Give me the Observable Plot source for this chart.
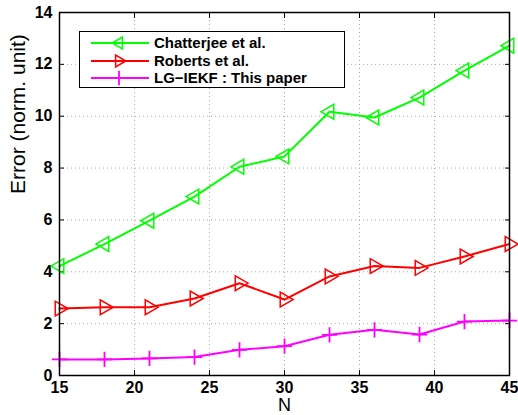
<!DOCTYPE html>
<html>
<head>
<meta charset="utf-8">
<script src="https://cdn.jsdelivr.net/npm/d3@7"></script>
<script src="https://cdn.jsdelivr.net/npm/@observablehq/plot@0.6"></script>
<style>
  body { margin: 0; background: #fff; }
  #wrap { position: relative; width: 518px; height: 415px; font-family: "Liberation Sans", Arial, sans-serif; }
  #legend { position: absolute; left: 79px; top: 31px; width: 266px; height: 57px; border: 1px solid #000; background: #fff; box-sizing: border-box; }
  #legend .row { position: absolute; left: 0; height: 18px; }
  #legend .lab { position: absolute; left: 74px; font-weight: bold; font-size: 15px; line-height: 18px; white-space: nowrap; }
</style>
</head>
<body>
<div id="wrap"></div>
<script>
const N = [15, 18, 21, 24, 27, 30, 33, 36, 39, 42, 45];
const chatterjee = [4.22, 5.07, 5.97, 6.9, 8.05, 8.45, 10.17, 9.95, 10.72, 11.76, 12.72];
const roberts = [2.58, 2.63, 2.63, 2.97, 3.56, 2.93, 3.82, 4.22, 4.15, 4.59, 5.07];
const lgiekf = [0.62, 0.62, 0.66, 0.71, 0.99, 1.13, 1.57, 1.76, 1.58, 2.08, 2.12];
const seriesNames = ["Chatterjee et al.", "Roberts et al.", "LG\u2212IEKF : This paper"];
const seriesColors = ["#00ff00", "#ff0000", "#ff00ff"];
const xTicks = [15, 20, 25, 30, 35, 40, 45];
const yTicks = [0, 2, 4, 6, 8, 10, 12, 14];

const data = [];
[chatterjee, roberts, lgiekf].forEach((vals, s) => {
  vals.forEach((v, i) => data.push({ series: seriesNames[s], N: N[i], err: v }));
});
const bySeries = (s) => data.filter(d => d.series === seriesNames[s]);

const tickFont = { fontWeight: "bold", fontSize: 16 };

const chart = Plot.plot({
  width: 518,
  height: 415,
  marginLeft: 59,
  marginRight: 9,
  marginTop: 12,
  marginBottom: 40,
  style: { fontFamily: "Liberation Sans, Arial, sans-serif", background: "#fff", color: "#000" },
  x: { domain: [15, 45] },
  y: { domain: [0, 14] },
  marks: [
    Plot.gridX(xTicks.slice(1, -1), { stroke: "#aaa", strokeOpacity: 1, strokeDasharray: "1,3", strokeWidth: 1 }),
    Plot.gridY(yTicks.slice(1, -1), { stroke: "#aaa", strokeOpacity: 1, strokeDasharray: "1,3", strokeWidth: 1 }),
    Plot.axisX(xTicks, { anchor: "bottom", tickSize: -5, tickPadding: 11, strokeWidth: 1, label: null, ...tickFont }),
    Plot.axisX(xTicks, { anchor: "top", tickSize: -5, tickFormat: () => "", label: null }),
    Plot.axisY(yTicks, { anchor: "left", tickSize: -5, tickPadding: 12, label: null, ...tickFont }),
    Plot.axisY(yTicks, { anchor: "right", tickSize: -5, tickFormat: () => "", label: null }),
    Plot.line(bySeries(2), { x: "N", y: "err", stroke: seriesColors[2], strokeWidth: 2 }),
    Plot.dot(bySeries(2), { x: "N", y: "err", stroke: seriesColors[2], symbol: "plus", r: 5, strokeWidth: 1.8 }),
    Plot.line(bySeries(1), { x: "N", y: "err", stroke: seriesColors[1], strokeWidth: 2 }),
    Plot.dot(bySeries(1), { x: "N", y: "err", stroke: seriesColors[1], symbol: "triangle", rotate: 90, r: 5.5, strokeWidth: 1.5, fill: "none" }),
    Plot.line(bySeries(0), { x: "N", y: "err", stroke: seriesColors[0], strokeWidth: 2 }),
    Plot.dot(bySeries(0), { x: "N", y: "err", stroke: seriesColors[0], symbol: "triangle", rotate: -90, r: 5.5, strokeWidth: 1.5, fill: "none" }),
    Plot.frame({ stroke: "#000", strokeWidth: 1.5 }),
    Plot.text(["N"], { frameAnchor: "bottom", dy: 30, fontSize: 18, lineAnchor: "middle" }),
    Plot.text(["Error (norm. unit)"], { frameAnchor: "left", dx: -41, rotate: -90, fontSize: 21, lineAnchor: "middle" })
  ]
});
const wrap = document.getElementById("wrap");
wrap.appendChild(chart);

// legend
const legend = document.createElement("div");
legend.id = "legend";
const symbols = ["triangle", "triangle", "plus"];
const rotations = [-90, 90, 0];
seriesNames.forEach((name, i) => {
  const row = document.createElement("div");
  row.className = "row";
  row.style.top = (2 + i * 17.5) + "px";
  const svg = d3.create("svg").attr("width", 72).attr("height", 18).style("position", "absolute").style("left", "0px");
  svg.append("line").attr("x1", 11).attr("x2", 69).attr("y1", 9).attr("y2", 9).attr("stroke", seriesColors[i]).attr("stroke-width", 2);
  const sym = symbols[i] === "plus" ? d3.symbolPlus : d3.symbolTriangle;
  svg.append("path").attr("d", d3.symbol(sym, symbols[i] === "plus" ? 70 : 60)())
    .attr("transform", `translate(39,9) rotate(${rotations[i]})`)
    .attr("fill", "none").attr("stroke", seriesColors[i]).attr("stroke-width", symbols[i] === "plus" ? 1.8 : 1.5);
  row.appendChild(svg.node());
  const lab = document.createElement("div");
  lab.className = "lab";
  lab.textContent = name;
  row.appendChild(lab);
  legend.appendChild(row);
});
wrap.appendChild(legend);
</script>
</body>
</html>
